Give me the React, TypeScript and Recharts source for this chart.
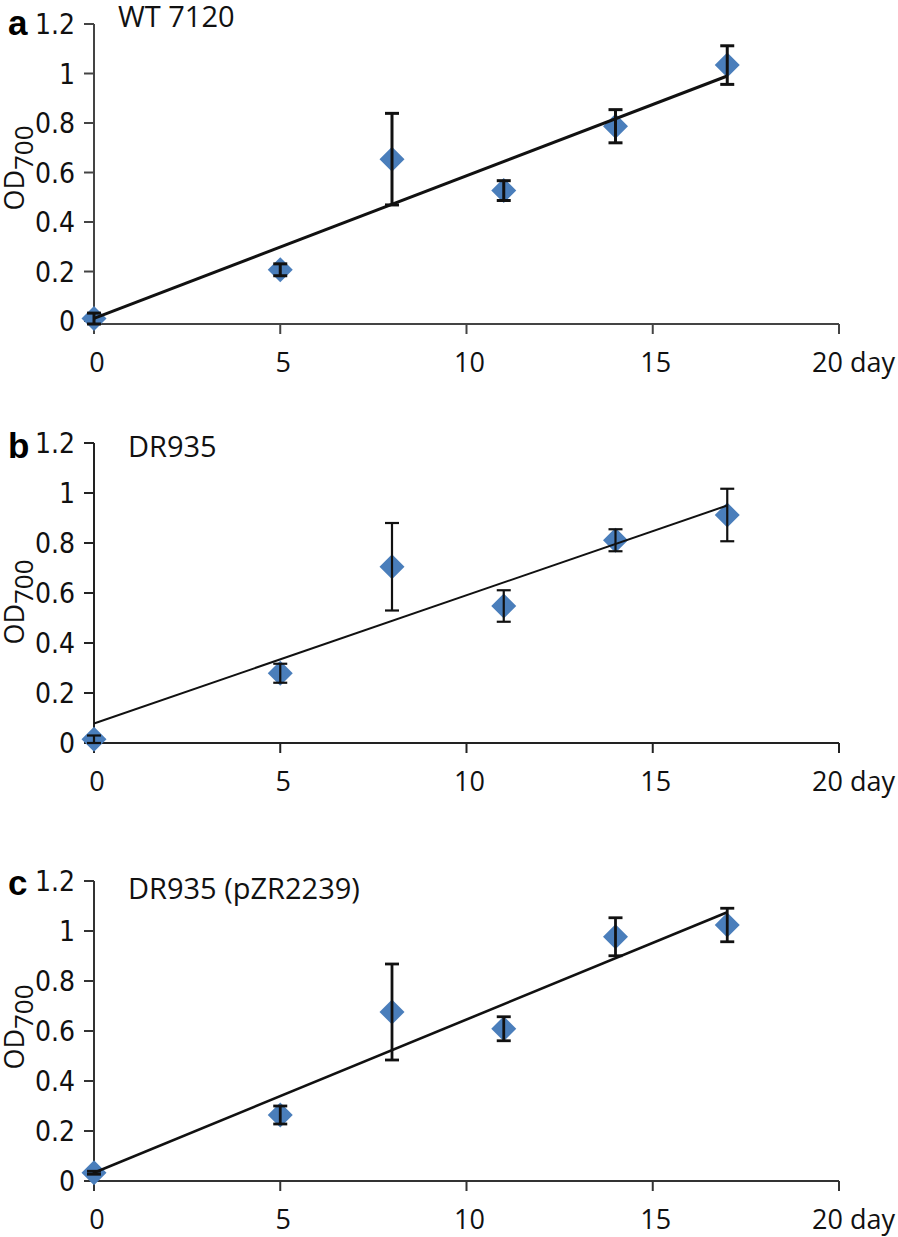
import React from 'react';
import { ComposedChart, XAxis, YAxis, Scatter, Line, ErrorBar } from 'recharts';

// ---- data ----
const days = [0, 5, 8, 11, 14, 17];
const trendDays = [0, 17];

const meanA = [0.01, 0.207, 0.654, 0.527, 0.787, 1.034];
const errA = [0.022, 0.024, 0.185, 0.04, 0.067, 0.078];
const trendA = [0.011, 0.99];

const meanB = [0.015, 0.279, 0.705, 0.548, 0.811, 0.912];
const errB = [0.015, 0.038, 0.175, 0.063, 0.044, 0.105];
const trendB = [0.078, 0.95];

const meanC = [0.033, 0.264, 0.676, 0.609, 0.977, 1.024];
const errC = [0.006, 0.036, 0.192, 0.048, 0.076, 0.067];
const trendC = [0.033, 1.075];

const xTicks = [0, 5, 10, 15, 20];
const xTickLabels = ['0', '5', '10', '15', '20 day'];
const yTicks = [0, 0.2, 0.4, 0.6, 0.8, 1, 1.2];
const yTickLabels = ['0', '0.2', '0.4', '0.6', '0.8', '1', '1.2'];

const panelLetters = ['a', 'b', 'c'];
const panelTitles = ['WT 7120', 'DR935', 'DR935 (pZR2239)'];

// ---- layout ----
const W = 898;
const H = 380;
const FONT = "'Open Sans', 'Noto Sans', sans-serif";
const NARROW = "'Liberation Sans Narrow', 'DejaVu Sans Condensed', 'Open Sans', sans-serif";
const BLUE = '#4a7ebb';

const Diamond = (props: any) => {
  const { cx, cy } = props;
  if (cx == null || cy == null) return <g />;
  const r = 12.5;
  return (
    <polygon
      points={`${cx},${cy - r} ${cx + r},${cy} ${cx},${cy + r} ${cx - r},${cy}`}
      fill={BLUE}
    />
  );
};

const Empty = () => <g />;

const XTick = (props: any) => {
  const { x, y, payload } = props;
  const i = xTicks.indexOf(payload.value);
  const label = xTickLabels[i] ?? String(payload.value);
  if (i === xTicks.length - 1) {
    return (
      <text x={x - 27} y={y} dy={38} textAnchor="start" fontFamily={FONT} fontSize={27} fill="#111">
        {label}
      </text>
    );
  }
  return (
    <text x={x + 3} y={y} dy={38} textAnchor="middle" fontFamily={FONT} fontSize={27} fill="#111">
      {label}
    </text>
  );
};

const YTick = (props: any) => {
  const { x, y, payload } = props;
  const i = yTicks.indexOf(payload.value);
  const label = yTickLabels[i] ?? String(payload.value);
  return (
    <text x={x + 2} y={y} dy="0.36em" textAnchor="end" fontFamily={NARROW} fontSize={28} fill="#111">
      {label}
    </text>
  );
};

type PanelProps = {
  top: number;
  idx: number;
  means: number[];
  errs: number[];
  trend: number[];
  lineW: number;
  errW: number;
  axisColor: string;
  letterY: number;
  titleX: number;
  titleY: number;
  labelCY: number;
};

function Panel(p: PanelProps) {
  const pts = days.map((d, i) => ({ x: d, y: p.means[i], e: p.errs[i] }));
  const trend = trendDays.map((d, i) => ({ x: d, y: p.trend[i] }));
  const extra: any = {};
  return (
    <div style={{ position: 'absolute', left: 0, top: p.top, width: W, height: H }}>
      <ComposedChart width={W} height={H} margin={{ top: 24, right: 59, bottom: 0, left: 0 }}>
        <XAxis
          type="number"
          dataKey="x"
          domain={[0, 20]}
          ticks={xTicks}
          interval={0}
          height={56}
          tickSize={10}
          tickMargin={0}
          axisLine={{ stroke: p.axisColor, strokeWidth: 2 }}
          tickLine={{ stroke: p.axisColor, strokeWidth: 2 }}
          tick={<XTick />}
        />
        <YAxis
          type="number"
          dataKey="y"
          domain={[0, 1.2]}
          ticks={yTicks}
          interval={0}
          width={94}
          tickSize={10}
          tickMargin={11}
          axisLine={{ stroke: p.axisColor, strokeWidth: 2 }}
          tickLine={{ stroke: p.axisColor, strokeWidth: 2 }}
          tick={<YTick />}
        />
        <Scatter {...extra} zIndex={500} data={pts} shape={<Diamond />} isAnimationActive={false} />
        <Line
          {...extra}
          zIndex={650}
          data={trend}
          dataKey="y"
          stroke="#111"
          strokeWidth={p.lineW}
          dot={false}
          activeDot={false}
          isAnimationActive={false}
        />
        <Scatter {...extra} zIndex={700} data={pts} shape={<Empty />} isAnimationActive={false}>
          <ErrorBar
            {...extra}
            zIndex={800}
            dataKey="e"
            direction="y"
            width={7}
            strokeWidth={p.errW}
            stroke="#111"
            isAnimationActive={false}
          />
        </Scatter>
      </ComposedChart>
      <svg
        width={W}
        height={H}
        style={{ position: 'absolute', left: 0, top: 0, pointerEvents: 'none' }}
      >
        <text x={8} y={p.letterY} fontFamily="'Liberation Sans', Arial, sans-serif" fontWeight="bold" fontSize={35} fill="#000">
          {panelLetters[p.idx]}
        </text>
        <text x={p.titleX} y={p.titleY} fontFamily={FONT} fontSize={29} fill="#111">
          {panelTitles[p.idx]}
        </text>
        <text
          transform={`translate(24, ${p.labelCY}) rotate(-90)`}
          textAnchor="middle"
          fontFamily={FONT}
          fontSize={27}
          fill="#111"
        >
          OD
          <tspan dy={9} fontSize={26}>700</tspan>
        </text>
      </svg>
    </div>
  );
}

export default function App() {
  return (
    <div style={{ position: 'absolute', left: 0, top: 0, width: W, height: 1237, background: '#fff', overflow: 'hidden' }}>
      <Panel top={0} idx={0} means={meanA} errs={errA} trend={trendA} lineW={3} errW={3} axisColor="#444"
        letterY={35} titleX={118} titleY={27} labelCY={168} />
      <Panel top={419} idx={1} means={meanB} errs={errB} trend={trendB} lineW={2} errW={2.2} axisColor="#222"
        letterY={39} titleX={128} titleY={38} labelCY={183} />
      <Panel top={857} idx={2} means={meanC} errs={errC} trend={trendC} lineW={2.6} errW={2.8} axisColor="#333"
        letterY={38} titleX={128} titleY={42} labelCY={170} />
    </div>
  );
}
